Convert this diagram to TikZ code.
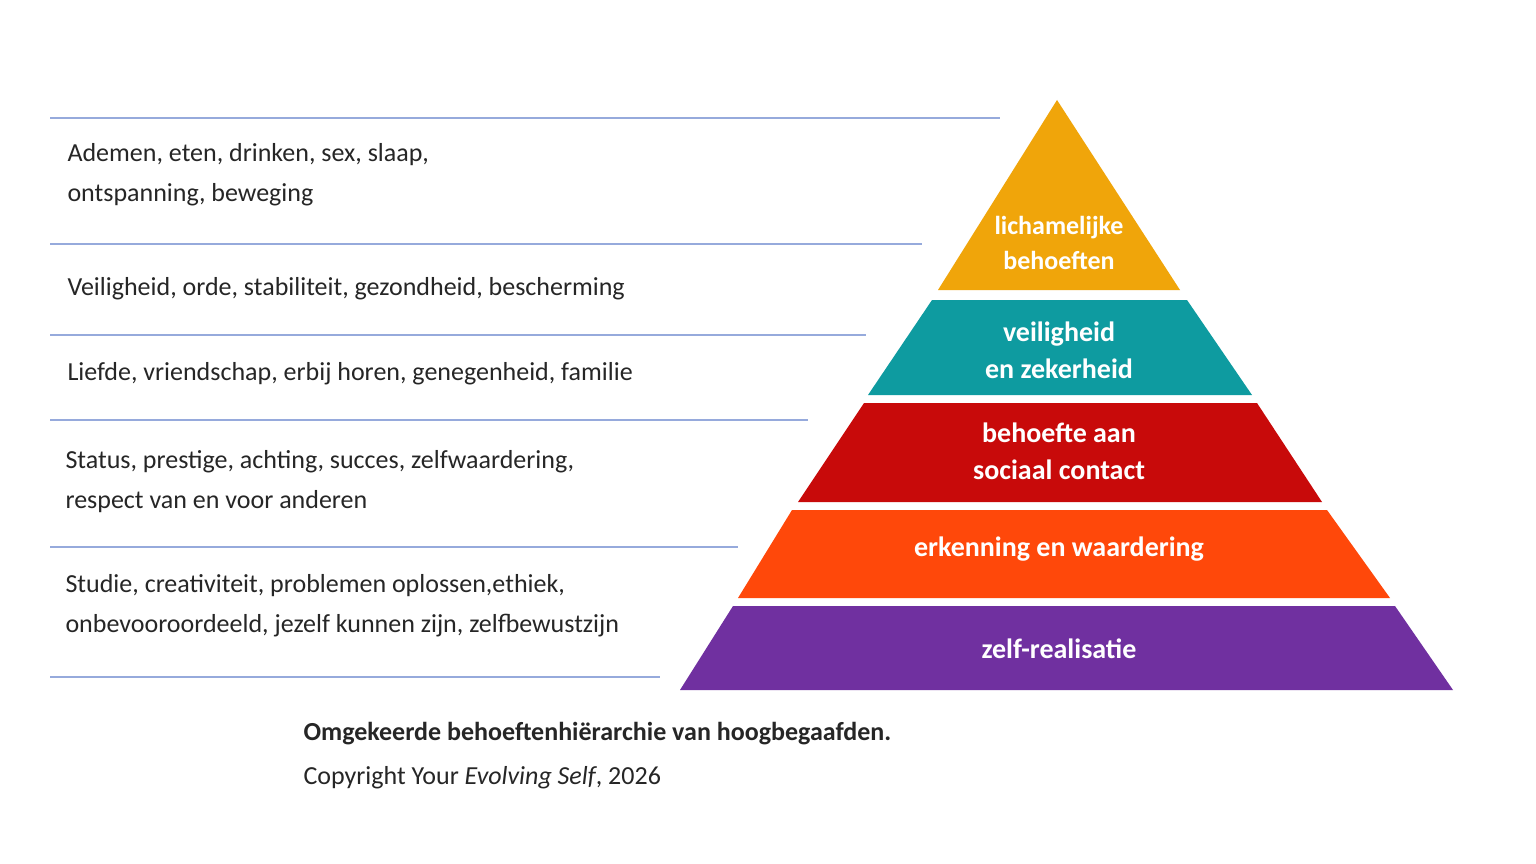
\documentclass[tikz,border=0pt]{standalone}
\usepackage{fontspec}
\setmainfont{Carlito}
\definecolor{cY}{RGB}{240,165,10}
\definecolor{cT}{RGB}{14,155,160}
\definecolor{cR}{RGB}{200,10,10}
\definecolor{cO}{RGB}{255,72,10}
\definecolor{cP}{RGB}{112,48,160}
\definecolor{cL}{RGB}{150,170,220}
\begin{document}
\begin{tikzpicture}[x=1pt,y=-1pt,
  rule/.style={draw=cL,line width=1.2pt},
  lbl/.style={anchor=west,font=\fontsize{26}{40}\selectfont,text=black!85,align=left},
  lay/.style={text=white,font=\bfseries\fontsize{28}{37}\selectfont,align=center}]
\useasboundingbox (0,0) rectangle (1536,864);
\fill[white] (0,0) rectangle (1536,864);
% pyramid
\fill[cY] (1057,100) -- (1180,290) -- (938,290) -- cycle;
\fill[cT] (932,300) -- (1187,300) -- (1252,395) -- (868,395) -- cycle;
\fill[cR] (864,403) -- (1257,403) -- (1322,502) -- (798,502) -- cycle;
\fill[cO] (792,510) -- (1327,510) -- (1390,598) -- (738,598) -- cycle;
\fill[cP] (733,606) -- (1395,606) -- (1453,690) -- (680,690) -- cycle;
\node[lay,font=\bfseries\fontsize{26}{35}\selectfont] (l1) at (1059,243) {lichamelijke\\behoeften};
\node[lay] (l2) at (1059,350) {veiligheid\\en zekerheid};
\node[lay] (l3) at (1059,451) {behoefte aan\\sociaal contact};
\node[lay] (l4) at (1059,549) {erkenning en waardering};
\node[lay] (l5) at (1059,649) {zelf-realisatie};
% rules
\draw[rule] (50,118) -- (1000,118);
\draw[rule] (50,244) -- (922,244);
\draw[rule] (50,335) -- (866,335);
\draw[rule] (50,420) -- (808,420);
\draw[rule] (50,547) -- (738,547);
\draw[rule] (50,677) -- (660,677);
% texts
\node[lbl] (t1) at (64,175) {Ademen, eten, drinken, sex, slaap,\\ontspanning, beweging};
\node[lbl] (t2) at (64,289) {Veiligheid, orde, stabiliteit, gezondheid, bescherming};
\node[lbl] (t3) at (64,374) {Liefde, vriendschap, erbij horen, genegenheid, familie};
\node[lbl] (t4) at (62,482) {Status, prestige, achting, succes, zelfwaardering,\\respect van en voor anderen};
\node[lbl] (t5) at (62,606) {Studie, creativiteit, problemen oplossen,ethiek,\\onbevooroordeeld, jezelf kunnen zijn, zelfbewustzijn};
\node[lbl,font=\bfseries\fontsize{26}{32}\selectfont] (c1) at (300,734) {Omgekeerde behoeftenhiërarchie van hoogbegaafden.};
\node[lbl] (c2) at (300,778) {Copyright Your \textit{Evolving Self}, 2026};
\end{tikzpicture}
\end{document}
